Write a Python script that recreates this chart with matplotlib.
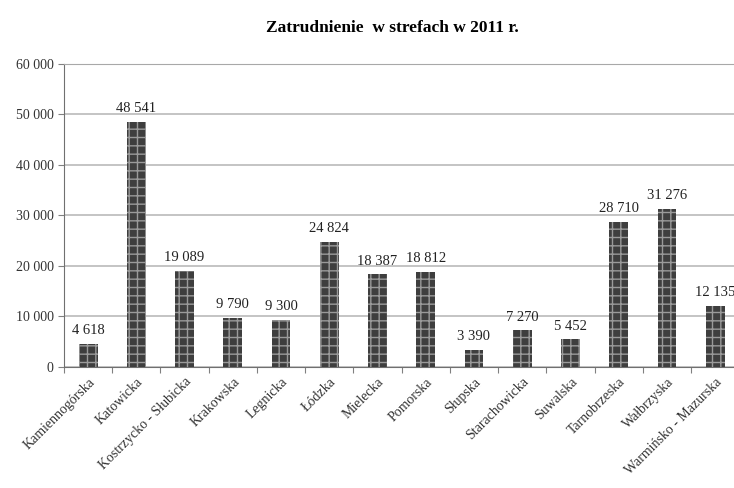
import matplotlib.pyplot as plt
import matplotlib as mpl
import numpy as np

zones = ['Kamiennogórska', 'Katowicka', 'Kostrzycko - Słubicka', 'Krakowska',
         'Legnicka', 'Łódzka', 'Mielecka', 'Pomorska', 'Słupska',
         'Starachowicka', 'Suwalska', 'Tarnobrzeska', 'Wałbrzyska',
         'Warmińsko - Mazurska']
employment = [4618, 48541, 19089, 9790, 9300, 24824, 18387, 18812, 3390,
              7270, 5452, 28710, 31276, 12135]
yticks = [0, 10000, 20000, 30000, 40000, 50000, 60000]


def fmt(v):
    return f'{v:,}'.replace(',', ' ')


plt.rcParams['font.family'] = ['Liberation Serif', 'DejaVu Serif']
mpl.rcParams['hatch.color'] = '#b0b0b0'
mpl.rcParams['hatch.linewidth'] = 1.0

fig = plt.figure(figsize=(7.34, 4.88), dpi=100)
ax = fig.add_axes([0.0872, 0.248, 0.92, 0.621])

x = np.arange(len(zones))
ax.bar(x, employment, width=0.39, color='#3e3e3e', hatch='++',
       edgecolor='#9a9a9a', linewidth=0, zorder=3)
for xi, v in zip(x, employment):
    ax.text(xi, v + 1300, fmt(v), ha='center', va='bottom', fontsize=10.5,
            color='#222222', zorder=4)

ax.set_xlim(-0.5, len(zones) - 0.5)
ax.set_ylim(0, 60000)
ax.set_yticks(yticks)
ax.set_yticklabels([fmt(t) for t in yticks], fontsize=10, color='#333333')
ax.yaxis.grid(True, color='#c4c4c4', linewidth=1.4, zorder=0)
ax.set_axisbelow(True)

ax.set_xticks(np.arange(len(zones) + 1) - 0.5)
ax.set_xticklabels([])
ax.set_xticks(x, minor=True)
ax.set_xticklabels(zones, minor=True, rotation=45, ha='right',
                   rotation_mode='anchor', fontsize=10, color='#333333')
ax.tick_params(axis='x', which='minor', length=0, pad=6)
ax.tick_params(axis='x', which='major', length=4, color='#808080')
ax.tick_params(axis='y', length=4, color='#808080')

for s in ['top', 'right']:
    ax.spines[s].set_color('#a8a8a8')
for s in ['left', 'bottom']:
    ax.spines[s].set_color('#707070')

fig.text(0.534, 0.942, 'Zatrudnienie  w strefach w 2011 r.', ha='center',
         va='center', fontsize=12.5, fontweight='bold')

fig.savefig('out.png', dpi=100)
